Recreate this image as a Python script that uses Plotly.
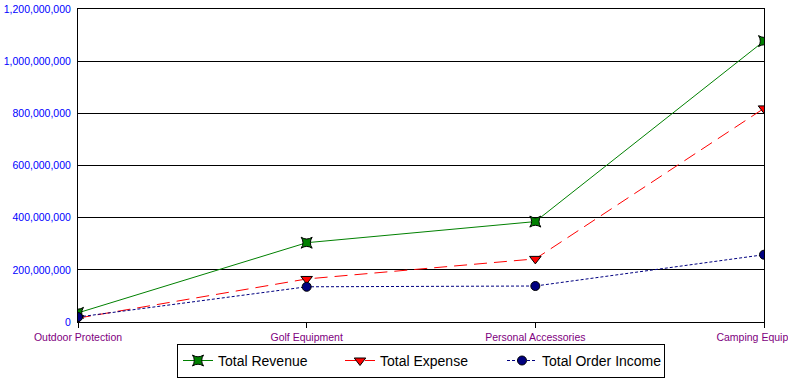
import plotly.graph_objects as go

categories = ["Outdoor Protection", "Golf Equipment", "Personal Accessories", "Camping Equipment"]
total_revenue = [35_000_000, 304_000_000, 385_000_000, 1_077_000_000]
total_expense = [15_000_000, 165_000_000, 242_000_000, 819_000_000]
total_order_income = [19_000_000, 135_000_000, 138_000_000, 258_000_000]
y_ticks = [0, 200_000_000, 400_000_000, 600_000_000, 800_000_000, 1_000_000_000, 1_200_000_000]

fig = go.Figure()
fig.add_trace(go.Scatter(
    x=categories, y=total_revenue, name="Total Revenue", mode="lines+markers",
    line=dict(color="#008000", width=1),
    marker=dict(symbol="star-square", size=10, color="#008000", line=dict(color="black", width=1)),
))
fig.add_trace(go.Scatter(
    x=categories, y=total_expense, name="Total Expense", mode="lines+markers",
    line=dict(color="#FF0000", width=1, dash="13px,7px"),
    marker=dict(symbol="triangle-down", size=10, color="#FF0000", line=dict(color="black", width=1)),
))
fig.add_trace(go.Scatter(
    x=categories, y=total_order_income, name="Total Order Income", mode="lines+markers",
    line=dict(color="#000080", width=1, dash="3px,2px"),
    marker=dict(symbol="circle", size=9, color="#000080", line=dict(color="black", width=1)),
))

fig.update_layout(
    width=788, height=392, autosize=False,
    margin=dict(l=78, r=24, t=9, b=70, autoexpand=False),
    plot_bgcolor="white", paper_bgcolor="white",
    font=dict(family="Liberation Sans, Arial, sans-serif", size=11, color="black"),
    showlegend=True,
    legend=dict(
        orientation="h", x=0.5, xanchor="center", y=-0.07, yanchor="top",
        bordercolor="black", borderwidth=1, font=dict(size=14, color="black"),
        entrywidth=117, entrywidthmode="pixels", itemwidth=30,
    ),
    xaxis=dict(
        type="category", range=[0, 3], showgrid=False, automargin=False,
        showline=True, linecolor="black", linewidth=1, mirror=True,
        ticks="outside", ticklen=5, tickcolor="black",
        tickfont=dict(color="#800080", size=10.5),
    ),
    yaxis=dict(
        range=[0, 1_200_000_000], tickvals=y_ticks, automargin=False,
        ticktext=[f"{v:,}" for v in y_ticks],
        showgrid=True, gridcolor="black", gridwidth=1,
        showline=True, linecolor="black", linewidth=1, mirror=True,
        zeroline=False, ticks="", ticklabelstandoff=4,
        tickfont=dict(color="#0000FF", size=10.5),
    ),
)

fig.write_html("out.html", config={"displayModeBar": False},
               post_script="document.body.style.margin='0';")
